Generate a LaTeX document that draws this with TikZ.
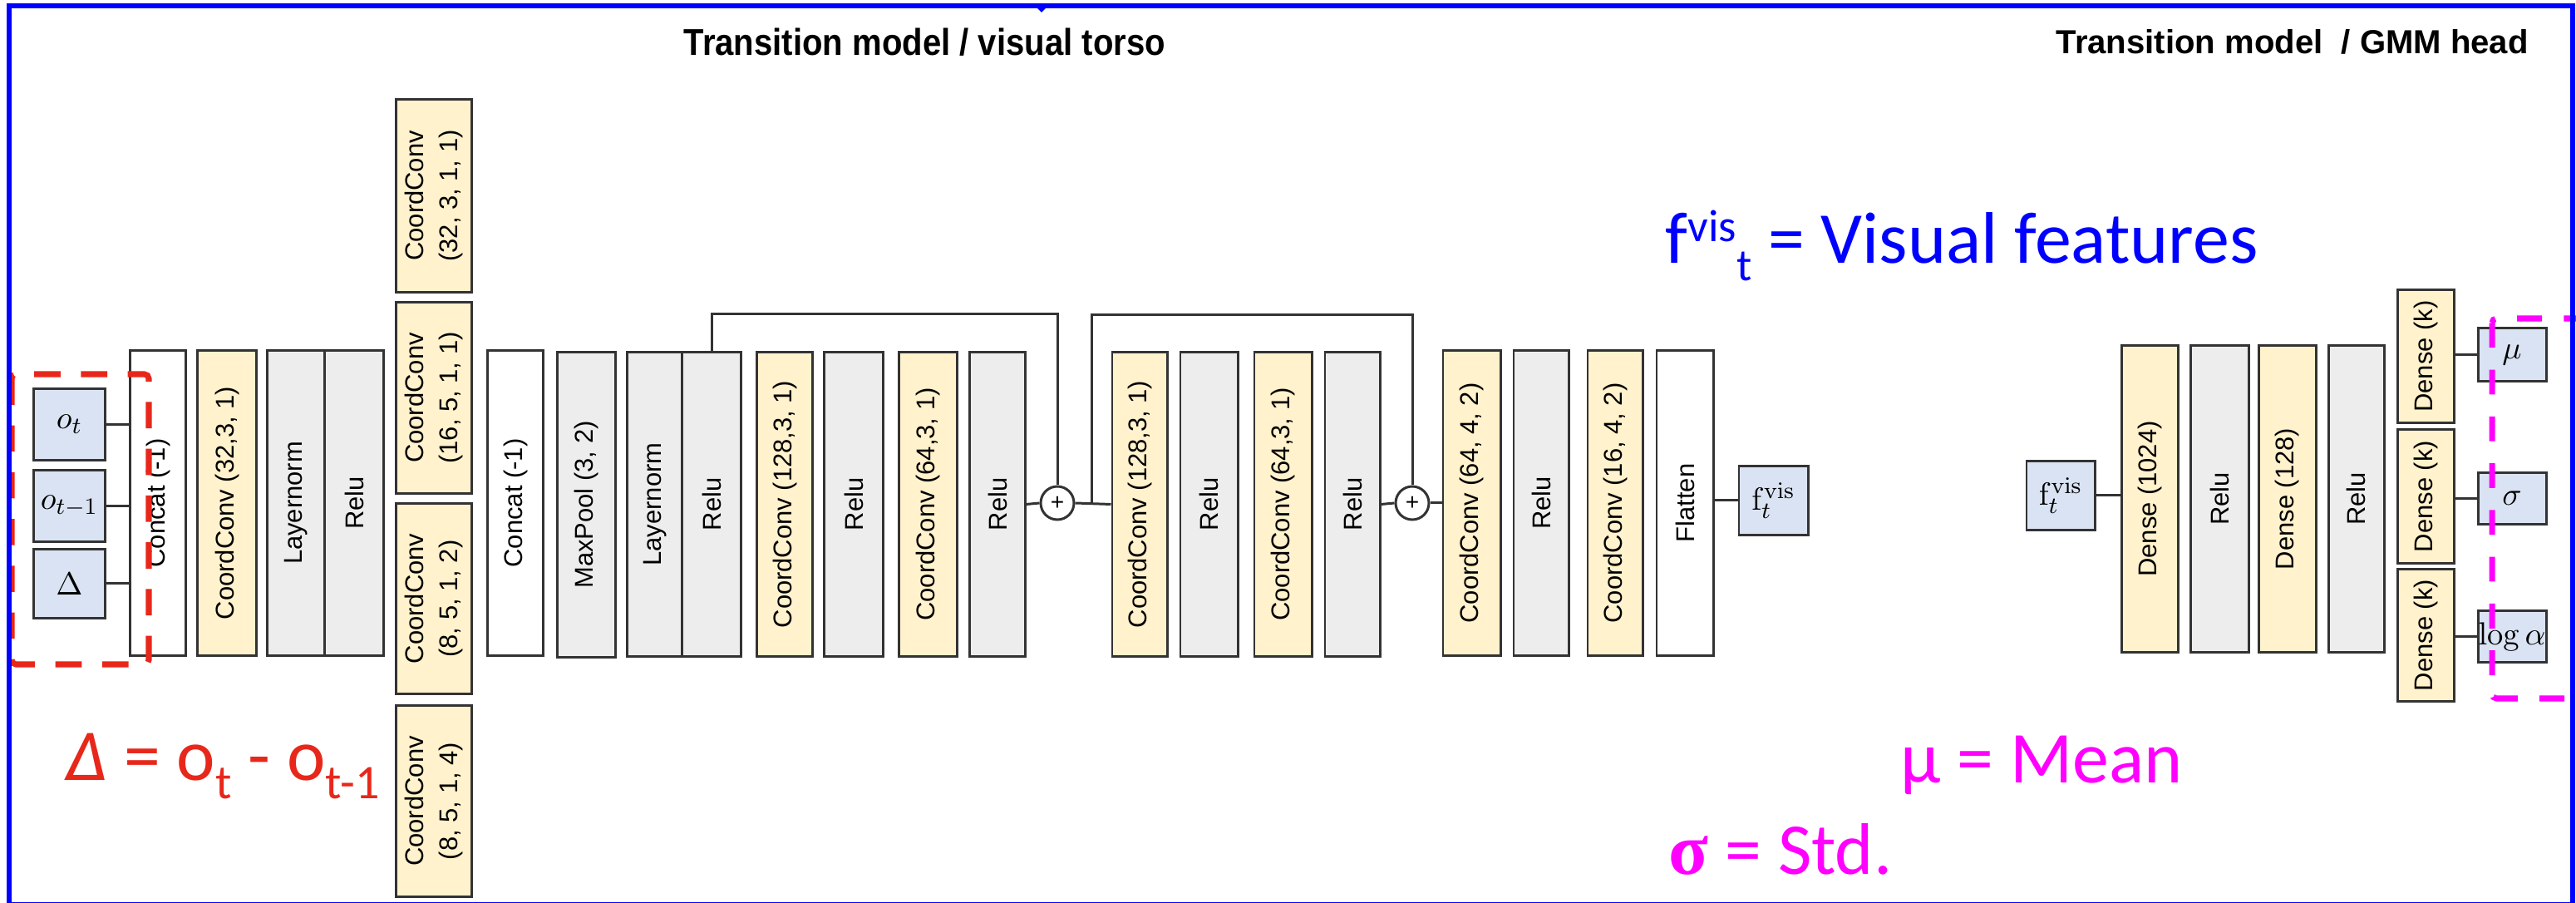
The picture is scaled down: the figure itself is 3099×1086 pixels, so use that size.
\documentclass[tikz,border=0pt]{standalone}
\usepackage[no-math]{fontspec}
\setmainfont{Liberation Sans}
\newfontfamily\calib{Carlito}
\newfontfamily\tserif{Liberation Serif}
\usetikzlibrary{calc}

\definecolor{edge}{HTML}{333333}
\definecolor{convfill}{HTML}{FFF2CC}
\definecolor{actfill}{HTML}{EDEDED}
\definecolor{iofill}{HTML}{DAE3F3}
\definecolor{framec}{HTML}{0000FF}
\definecolor{deltared}{HTML}{E8271B}
\definecolor{gmm}{HTML}{FF00FF}

% rotated one- and two-line layer captions
\newcommand\vt[1]{\rotatebox{90}{#1}}
\newcommand\vtt[2]{\rotatebox{90}{\begin{tabular}{@{}c@{}}#1\\#2\end{tabular}}}
% small lowered text for the Carlito annotations
\newcommand\lowtxt[1]{\raisebox{-0.25em}{\fontsize{16.5}{17}\selectfont #1}}

\tikzset{
  layer/.style={draw=edge, line width=0.85pt, inner sep=0pt,
    font=\fontsize{8.8}{11.5}\selectfont},
  conv/.style={layer, fill=convfill},
  act/.style={layer, fill=actfill},
  plain/.style={layer, fill=white},
  iobox/.style={layer, fill=iofill, font=\fontsize{11}{12}\selectfont},
  bw/.style={minimum width=#1cm},
  bh/.style={minimum height=#1cm},
  tall/.style={bw=#1, bh=3.66},
  sumnode/.style={circle, draw=edge, fill=white, line width=0.85pt,
    minimum size=0.40cm, inner sep=0pt, font=\fontsize{8}{8}\selectfont},
  wire/.style={draw=edge, line width=0.85pt},
  heading/.style={anchor=base west, inner sep=0pt,
    font=\bfseries\fontsize{11.4}{13}\selectfont},
  note/.style={anchor=base west, inner sep=0pt,
    font=\calib\fontsize{25}{30}\selectfont},
}

\begin{document}
\begin{tikzpicture}[x=0.01cm, y=-0.01cm]
\useasboundingbox (0,0) rectangle (3099,1086);
\clip (0,0) rectangle (3099,1086);

% ---------------- visual torso ----------------
\node[iobox, bw=0.85, bh=0.85] (in1) at (83.5,510.5) {$o_t$};
\node[iobox, bw=0.85, bh=0.85] (in2) at (83.5,608.5) {$o_{t-1}$};
\node[iobox, bw=0.85, bh=0.82] (in3) at (83.5,702) {$\Delta$};

\node[plain, tall=0.66] (concat1) at (190,605) {\vt{Concat (-1)}};
\node[conv,  tall=0.70] (cc1)     at (273,605) {\vt{CoordConv (32,3, 1)}};
\node[act,   tall=0.69] (ln1)     at (356.5,605) {\vt{Layernorm}};
\node[act,   tall=0.70] (relu1)   at (426,605) {\vt{Relu}};

\node[conv, bw=0.90, bh=2.31] (cA) at (522,235.5) {\vtt{CoordConv}{(32, 3, 1, 1)}};
\node[conv, bw=0.90, bh=2.29] (cB) at (522,478.5) {\vtt{CoordConv}{(16, 5, 1, 1)}};
\node[conv, bw=0.90, bh=2.28] (cC) at (522,720)   {\vtt{CoordConv}{(8, 5, 1, 2)}};
\node[conv, bw=0.90, bh=2.29] (cD) at (522,963.5) {\vtt{CoordConv}{(8, 5, 1, 4)}};

\node[plain, tall=0.66] (concat2) at (620,605)    {\vt{Concat (-1)}};
\node[act,   tall=0.69] (mp)      at (705.5,607)  {\vt{MaxPool (3, 2)}};
\node[act,   tall=0.66] (ln2)     at (788,606.5)  {\vt{Layernorm}};
\node[act,   tall=0.70] (relu2)   at (856,606.5)  {\vt{Relu}};
\node[conv,  tall=0.66] (cc2)     at (944,606.5)  {\vt{CoordConv (128,3, 1)}};
\node[act,   tall=0.70] (relu3)   at (1027,606.5) {\vt{Relu}};
\node[conv,  tall=0.69] (cc3)     at (1116.5,606.5) {\vt{CoordConv (64,3, 1)}};
\node[act,   tall=0.66] (relu4)   at (1200,606.5) {\vt{Relu}};
\node[sumnode] (plus1) at (1272,605) {+};
\node[conv,  tall=0.66] (cc4)     at (1371,606.5) {\vt{CoordConv (128,3, 1)}};
\node[act,   tall=0.69] (relu5)   at (1454.5,606.5) {\vt{Relu}};
\node[conv,  tall=0.69] (cc5)     at (1543.5,606.5) {\vt{CoordConv (64,3, 1)}};
\node[act,   tall=0.66] (relu6)   at (1627,606.5) {\vt{Relu}};
\node[sumnode] (plus2) at (1699,605) {+};
\node[conv,  tall=0.69] (cc6)     at (1770.5,605) {\vt{CoordConv (64, 4, 2)}};
\node[act,   tall=0.66] (relu7)   at (1854,605)   {\vt{Relu}};
\node[conv,  tall=0.66] (cc7)     at (1943,605)   {\vt{CoordConv (16, 4, 2)}};
\node[plain, tall=0.68] (flat)    at (2027,605)   {\vt{Flatten}};
\node[iobox, bw=0.83, bh=0.82] (fv1) at (2133.5,602) {$\mathrm{f}_t^{\mathrm{vis}}$};

% input and chain connectors
\foreach \n in {in1,in2,in3}
  \draw[wire] (\n.east) -- (\n.east -| concat1.west);
\draw[wire] (relu4.east) -- (plus1.west);
\draw[wire] (plus1.east) -- (cc4.west);
\draw[wire] (relu6.east) -- (plus2.west);
\draw[wire] (plus2.east) -- (cc6.west);
\draw[wire] (flat.east |- fv1.west) -- (fv1.west);

% residual skips
\coordinate (skipA) at (0,378);
\coordinate (skipB) at (0,379);
\coordinate (sk2) at (1313,605);
\draw[wire] (relu2.north) -- (relu2.north |- skipA) -| (plus1.north);
\draw[wire] (sk2) -- (sk2 |- skipB) -| (plus2.north);

% ---------------- GMM head ----------------
\node[iobox, bw=0.82, bh=0.82] (fv2) at (2479,596) {$\mathrm{f}_t^{\mathrm{vis}}$};
\node[conv, bw=0.68, bh=3.68] (d1)    at (2586,600)   {\vt{Dense (1024)}};
\node[act,  bw=0.70, bh=3.68] (relu8) at (2670,600)   {\vt{Relu}};
\node[conv, bw=0.69, bh=3.68] (d2)    at (2751.5,600) {\vt{Dense (128)}};
\node[act,  bw=0.67, bh=3.68] (relu9) at (2834.5,600) {\vt{Relu}};
\node[conv, bw=0.68, bh=1.59] (dk1) at (2918,428.5) {\vt{Dense (k)}};
\node[conv, bw=0.68, bh=1.60] (dk2) at (2918,597)   {\vt{Dense (k)}};
\node[conv, bw=0.68, bh=1.58] (dk3) at (2918,764)   {\vt{Dense (k)}};
\node[iobox, bw=0.82, bh=0.63] (mu)   at (3022,426.5) {$\mu$};
\node[iobox, bw=0.82, bh=0.61] (sig)  at (3022,599.5) {$\sigma$};
\node[iobox, bw=0.82, bh=0.61] (loga) at (3022,765.5) {$\log\alpha$};

\draw[wire] (fv2.east) -- (fv2.east -| d1.west);
\draw[wire] (mu.west -| dk1.east) -- (mu.west);
\draw[wire] (sig.west -| dk2.east) -- (sig.west);
\draw[wire] (loga.west -| dk3.east) -- (loga.west);

% ---------------- headings ----------------
\node[heading] (t1) at (822,67) {\scalebox{1}[1.12]{Transition model / visual torso}};
\node[heading] (t2) at (2473,65) {Transition model \ / GMM head};

% ---------------- highlights and notes ----------------
\draw[deltared, line width=2pt, dash pattern=on 9pt off 7pt, rounded corners=1.5pt]
  (14,450) rectangle (179,799);
\draw[gmm, line width=2pt, dash pattern=on 8.5pt off 7.5pt, rounded corners=1.5pt]
  (2998,383) rectangle (3140,840);

\node[note, text=framec] (fvnote) at (2003,317)
  {f\raisebox{0.3em}{\fontsize{15.5}{16}\selectfont vis}\raisebox{-0.23em}{\fontsize{15.5}{16}\selectfont t} = Visual features};
\node[note, text=gmm] (mean) at (2286,942) {μ = Mean};
\node[note, text=gmm] (std) at (2007,1052) {{\tserif\bfseries σ} = Std.};
\node[note, text=deltared] (dnote) at (79,939)
  {{\itshape Δ} = o\lowtxt{t} - o\lowtxt{t-1}};

% outer frame
\draw[framec, line width=1.7pt] (11,7.5) rectangle (3094.5,1088);
\fill[framec] (1246,8) -- (1260,8) -- (1253,15) -- cycle;
\end{tikzpicture}
\end{document}
